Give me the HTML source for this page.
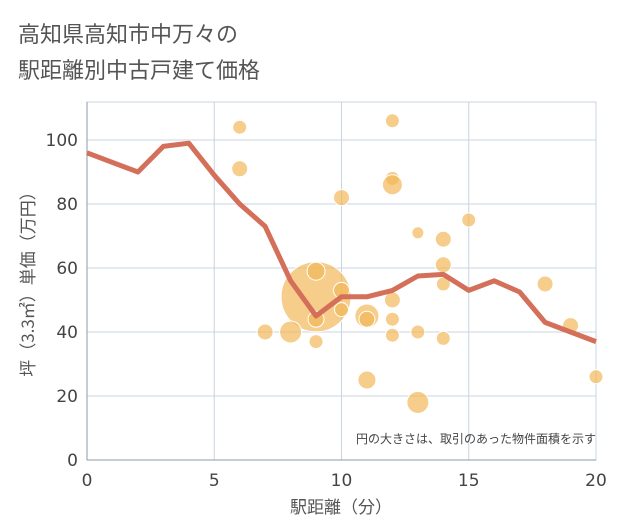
<!DOCTYPE html>
<html><head><meta charset="utf-8"><style>
body{margin:0;background:#fff;}
svg{display:block;font-family:"DejaVu Sans","Noto Sans CJK JP",sans-serif;}
</style></head><body>
<svg width="621" height="530" viewBox="0 0 621 530">
<text x="18" y="42" font-size="22" fill="#555" font-family="Noto Sans CJK JP, sans-serif">高知県高知市中万々の</text>
<text x="18" y="78" font-size="22" fill="#555" font-family="Noto Sans CJK JP, sans-serif">駅距離別中古戸建て価格</text>
<g id="grid"></g>
<g id="bubbles"></g>
<g id="line"></g>
<g id="axes"></g>
<text x="596" y="443" font-size="12" fill="#444" text-anchor="end" font-family="Noto Sans CJK JP, sans-serif">円の大きさは、取引のあった物件面積を示す</text>
<text x="341" y="513" font-size="17" fill="#555" text-anchor="middle" font-family="Noto Sans CJK JP, sans-serif">駅距離（分）</text>
<text transform="translate(34,280) rotate(-90)" font-size="17" fill="#555" text-anchor="middle" font-family="Noto Sans CJK JP, sans-serif">坪（3.3㎡）単価（万円）</text>
</svg>
<script>
const xTicks=[0,5,10,15,20];
const yTicks=[0,20,40,60,80,100];
const lineX=[0,2,3,4,5,6,7,8,9,10,11,12,13,14,15,16,17,18,19,20];
const lineY=[96,90,98,99,89,80,73,56,45,51,51,53,57.5,58,53,56,52.5,43,40,37];
const bubX=[9,6,6,9,9,9,7,8,10,10,10,11,11,11,12,12,12,12,12,12,13,13,13,14,14,14,14,15,18,19,20];
const bubY=[51,104,91,59,44,37,40,40,82,53,47,45,44,25,106,88,86,50,44,39,71,40,18,69,61,55,38,75,55,42,26];
const bubR=[35,7,8,9,8,7,8,11,8,8,7,12,8,9,7,7,10,8,7,7,6,7,11,8,8,7,7,7,8,8,7];
const X=v=>87+v*25.45, Y=v=>460-v*3.2;
const NS="http://www.w3.org/2000/svg";
function mk(t,a,p){const e=document.createElementNS(NS,t);for(const k in a)e.setAttribute(k,a[k]);p.appendChild(e);return e;}
const grid=document.getElementById('grid'),axes=document.getElementById('axes');
mk('rect',{x:87,y:102,width:509,height:358,fill:'none',stroke:'#c8d4df'},grid);
xTicks.forEach(t=>{
 const l=mk('line',{x1:X(t),x2:X(t),y1:102,y2:460,stroke:'#c8d4df','stroke-width':1},grid);
 
 
 const tx=mk('text',{x:X(t),y:486,'font-size':17,fill:'#444','text-anchor':'middle'},axes);
 tx.textContent=t;
 
 
});
yTicks.forEach(t=>{
 const l=mk('line',{x1:87,x2:596,y1:Y(t),y2:Y(t),stroke:'#c8d4df','stroke-width':1},grid);
 
 
 const tx=mk('text',{x:78,y:Y(t)+6,'font-size':17,fill:'#444','text-anchor':'end'},axes);
 tx.textContent=t;
 
 
});
mk('line',{x1:87,x2:87,y1:102,y2:460,stroke:'#8a9aa8','stroke-width':1},grid);
mk('line',{x1:87,x2:596,y1:460,y2:460,stroke:'#8a9aa8','stroke-width':1},grid);
const bg=document.getElementById('bubbles');
bubX.forEach((v,i)=>{
 const c=mk('circle',{cx:X(v),cy:Y(bubY[i]),r:bubR[i],fill:'#f2b85a','fill-opacity':0.7,stroke:'#fff','stroke-width':1},bg);
 
 
});
const p=mk('polyline',{points:lineX.map((v,i)=>X(v)+','+Y(lineY[i])).join(' '),fill:'none',stroke:'#d4705a','stroke-width':5,'stroke-linejoin':'round'},document.getElementById('line'));


</script>
</body></html>
